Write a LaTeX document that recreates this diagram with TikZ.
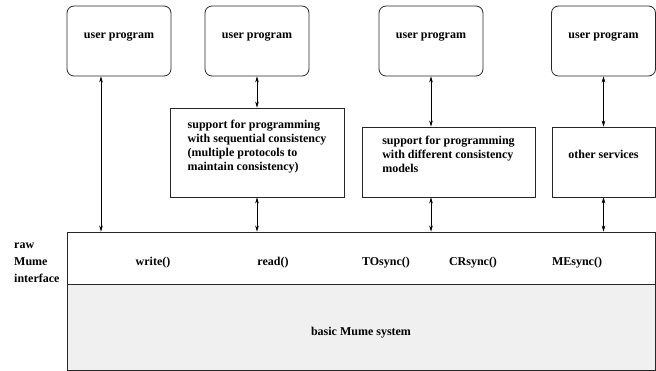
\documentclass[tikz,border=0pt]{standalone}
\usepackage{fontspec}
\setmainfont{Liberation Serif}
\usetikzlibrary{arrows.meta,positioning}
\definecolor{basefill}{gray}{0.94}
\definecolor{edge}{gray}{0.15}

\begin{document}
\begin{tikzpicture}[x=1pt,y=-1pt,
  font=\fontsize{12}{14}\selectfont\bfseries,
  userbox/.style={draw=edge, line width=0.8pt, rounded corners=7pt, minimum width=104pt, minimum height=70pt, text depth=10.5pt},
  supbox/.style={draw=edge, line width=0.8pt, align=left},
  layer/.style={draw=edge, line width=0.8pt, minimum width=588pt},
  conn/.style={{Stealth[length=6pt,width=3.6pt]}-{Stealth[length=6pt,width=3.6pt]}, line width=0.6pt}]
  \useasboundingbox (0,0) rectangle (656,371);
  % user programs
  \node[userbox] (up1) at (119,41) {user program};
  \node[userbox] (up2) at (257,41) {user program};
  \node[userbox] (up3) at (431,41) {user program};
  \node[userbox] (up4) at (603.5,41) {user program};
  % middle layer
  \node[supbox, minimum width=174pt, minimum height=89pt, text depth=13.5pt] (sup1) at (257,152.5)
    {support for programming\\with sequential consistency\\(multiple protocols to\\maintain consistency)};
  \node[supbox, minimum width=173pt, minimum height=70pt, text depth=16pt] (sup2) at (448.5,162)
    {support for programming\\with different consistency\\models};
  \node[supbox, minimum width=103pt, minimum height=70pt, text depth=16pt] (sup3) at (603.5,162)
    {other services};
  % raw interface and base system
  \node[layer, minimum height=52pt] (iface) at (361,258) {};
  \node[layer, fill=basefill, minimum height=86pt, text height=20pt] (base) at (361,327) {basic Mume system};
  \node[align=left, anchor=west, inner sep=2pt] (raw) at (12,263) {raw\\[3pt]Mume\\[3pt]interface};
  \node (write) at (153,263) {write()};
  \node (read) at (273,263) {read()};
  \node (tosync) at (386,263) {TOsync()};
  \node (crsync) at (473,263) {CRsync()};
  \node (mesync) at (577,263) {MEsync()};
  % connectors
  \coordinate (up1foot) at ([xshift=-18pt]up1.south);
  \draw[conn] (up1foot) -- (up1foot |- iface.north);
  \draw[conn] (up2.south) -- (sup1.north);
  \draw[conn] (sup1.south) -- (sup1.south |- iface.north);
  \draw[conn] (up3.south) -- (up3.south |- sup2.north);
  \draw[conn] (up3.south |- sup2.south) -- (up3.south |- iface.north);
  \draw[conn] (up4.south) -- (sup3.north);
  \draw[conn] (sup3.south) -- (sup3.south |- iface.north);
\end{tikzpicture}
\end{document}
